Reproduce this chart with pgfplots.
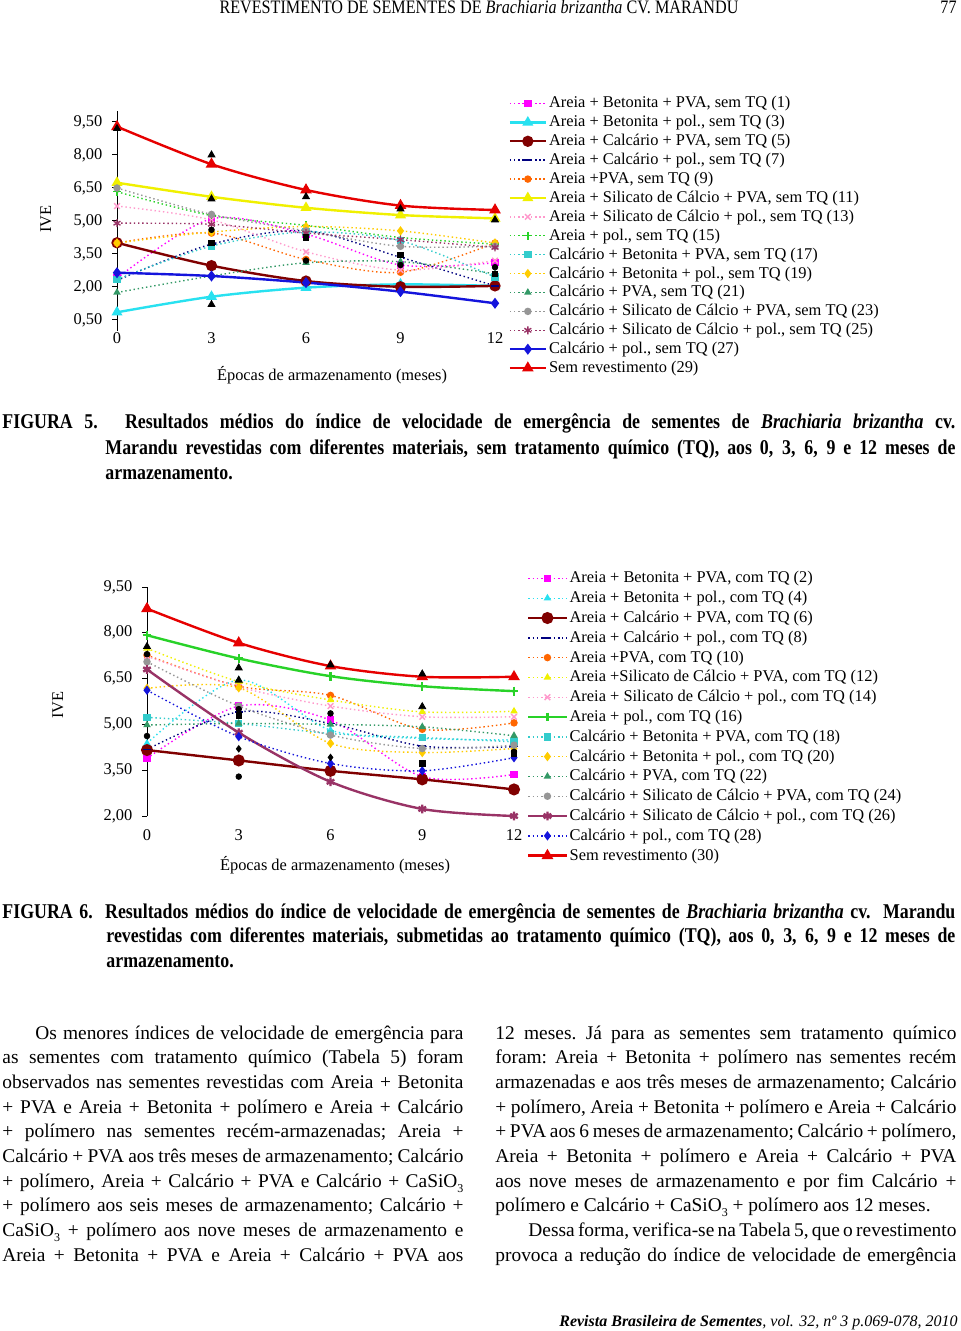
\documentclass[border=0pt]{standalone}
\usepackage{pgfplots}
\pgfplotsset{compat=1.18}
\usepackage{fontspec}
\setmainfont{Liberation Serif}
\newfontfamily\capf[FakeStretch=0.85]{Liberation Serif}
\newfontfamily\headf[FakeStretch=0.85]{Liberation Serif}
\newcommand\chartfont{\fontsize{8.2}{9.5}\selectfont}
\newcommand\bodyfont{\fontsize{9.7}{12}\selectfont\frenchspacing}
\newcommand\capfont{\capf\bfseries\fontsize{10.5}{12}\selectfont}
\newcommand\sub[1]{\raisebox{-0.55ex}{\fontsize{6}{6}\selectfont #1}}
\newcommand\bl[4]{\node[anchor=base west,inner sep=0] at (#1,#2) {\bodyfont\hbox to #3{#4}};}
\newcommand\cl[4]{\node[anchor=base west,inner sep=0] at (#1,#2) {\capfont\hbox to #3{#4}};}

\definecolor{cMag}{RGB}{255,0,255}
\definecolor{cCyan}{RGB}{40,225,240}
\definecolor{cDkRed}{RGB}{128,0,0}
\definecolor{cNavy}{RGB}{0,0,128}
\definecolor{cOrange}{RGB}{255,102,0}
\definecolor{cYellow}{RGB}{240,240,0}
\definecolor{cPink}{RGB}{255,153,204}
\definecolor{cGreen}{RGB}{40,210,40}
\definecolor{cTeal}{RGB}{51,204,204}
\definecolor{cGold}{RGB}{255,204,0}
\definecolor{cDkGreen}{RGB}{51,153,102}
\definecolor{cGray}{RGB}{150,150,150}
\definecolor{cPurple}{RGB}{153,51,102}
\definecolor{cBlue}{RGB}{20,20,220}
\definecolor{cRed}{RGB}{230,0,0}

\pgfplotsset{
  dotl/.style={line width=0.7pt, dash pattern=on 0.7pt off 1.4pt, smooth, mark size=1.5pt, mark options={solid}},
  soll/.style={line width=1.2pt, smooth, mark size=2pt, mark options={solid}},
  pagechart/.style={
    scale only axis, clip=false, enlargelimits=false,
    axis lines=left, axis line style={-, black, line width=0.5pt},
    x axis line style={draw=none},
    xtick={0,3,6,9,12}, xmin=0, xmax=12,
    x tick style={draw=none},
    y tick style={black, line width=0.5pt},
    tick align=outside, major tick length=2.5pt,
    tick label style={font=\chartfont},
    yticklabel={\pgfmathprintnumber[fixed,fixed zerofill,precision=2,use comma,assume math mode=true]{\tick}},
    xticklabel={\pgfmathprintnumber[fixed,precision=0,assume math mode=true]{\tick}},
    yticklabel style={xshift=-1.3pt},
    legend cell align=left,
    legend image code/.code={\draw[mark repeat=2,mark phase=2,#1] plot coordinates {(0pt,0pt) (9pt,0pt) (18pt,0pt)};},
  },
}

\begin{document}
\begin{tikzpicture}
\begin{scope}[x=0.5pt,y=-0.5pt]
\fill[white] (0,0) rectangle (960,1331);
% header
\node[anchor=base, inner sep=0] at (479,14) {\headf\fontsize{9.5}{11}\selectfont REVESTIMENTO DE SEMENTES DE \textit{Brachiaria brizantha} CV. MARANDU};
\node[anchor=base east, inner sep=0] at (957,14) {\headf\fontsize{9.5}{11}\selectfont 77};
% axis texts chart 1
\node[rotate=90, font=\chartfont] at (46,219) {IVE};
\node[font=\chartfont] at (332,375) {Épocas de armazenamento (meses)};
% caption 5
\cl{2}{429}{476.5pt}{FIGURA 5. Resultados médios do índice de velocidade de emergência de sementes de \textit{Brachiaria brizantha} cv.}
\cl{105}{454}{425pt}{Marandu revestidas com diferentes materiais, sem tratamento químico (TQ), aos 0, 3, 6, 9 e 12 meses de}
\node[anchor=base west,inner sep=0] at (105,479) {\capfont armazenamento.};
% axis texts chart 2
\node[rotate=90, font=\chartfont] at (58,705) {IVE};
\node[font=\chartfont] at (335,865) {Épocas de armazenamento (meses)};
% caption 6
\cl{2}{918}{476.5pt}{FIGURA 6. Resultados médios do índice de velocidade de emergência de sementes de \textit{Brachiaria brizantha} cv. Marandu}
\cl{106}{942}{424.5pt}{revestidas com diferentes materiais, submetidas ao tratamento químico (TQ), aos 0, 3, 6, 9 e 12 meses de}
\node[anchor=base west,inner sep=0] at (106,967) {\capfont armazenamento.};
% body left
\bl{35}{1039}{214pt}{Os menores índices de velocidade de emergência para}
\bl{2}{1063.7}{230.5pt}{as sementes com tratamento químico (Tabela 5) foram}
\bl{2}{1088.4}{230.5pt}{observados nas sementes revestidas com Areia + Betonita}
\bl{2}{1113.1}{230.5pt}{+ PVA e Areia + Betonita + polímero e Areia + Calcário}
\bl{2}{1137.8}{230.5pt}{+ polímero nas sementes recém-armazenadas; Areia +}
\bl{2}{1162.5}{230.5pt}{Calcário + PVA aos três meses de armazenamento; Calcário}
\bl{2}{1187.2}{230.5pt}{+ polímero, Areia + Calcário + PVA e Calcário + CaSiO\sub{3}}
\bl{2}{1211.9}{230.5pt}{+ polímero aos seis meses de armazenamento; Calcário +}
\bl{2}{1236.6}{230.5pt}{CaSiO\sub{3} + polímero aos nove meses de armazenamento e}
\bl{2}{1261.3}{230.5pt}{Areia + Betonita + PVA e Areia + Calcário + PVA aos}
% body right
\bl{495}{1039}{230.5pt}{12 meses. Já para as sementes sem tratamento químico}
\bl{495}{1063.7}{230.5pt}{foram: Areia + Betonita + polímero nas sementes recém}
\bl{495}{1088.4}{230.5pt}{armazenadas e aos três meses de armazenamento; Calcário}
\bl{495}{1113.1}{230.5pt}{+ polímero, Areia + Betonita + polímero e Areia + Calcário}
\bl{495}{1137.8}{230.5pt}{+ PVA aos 6 meses de armazenamento; Calcário + polímero,}
\bl{495}{1162.5}{230.5pt}{Areia + Betonita + polímero e Areia + Calcário + PVA}
\bl{495}{1187.2}{230.5pt}{aos nove meses de armazenamento e por fim Calcário +}
\bl{495}{1211.9}{230.5pt}{polímero e Calcário + CaSiO\sub{3} + polímero aos 12 meses.\hfil}
\bl{528}{1236.6}{214pt}{Dessa forma, verifica-se na Tabela 5, que o revestimento}
\bl{495}{1261.3}{230.5pt}{provoca a redução do índice de velocidade de emergência}
% footer
\node[anchor=base east, inner sep=0] at (958,1326) {\fontsize{8}{10}\selectfont\textbf{\textit{Revista Brasileira de Sementes}}\textit{, vol. 32, nº 3 p.069-078, 2010}};
\end{scope}

% ================= CHART 1 =================
\begin{axis}[pagechart,
  at={(58.5pt,-165.5pt)}, anchor=south west,
  width=189pt, height=110pt,
  ymin=0, ymax=10, ytick={0.5,2,3.5,5,6.5,8,9.5},
  xticklabel style={yshift=5.4pt},
  legend style={at={(axis description cs:1.035,1.07)}, anchor=north west, draw=none, fill=none,
    inner sep=0pt, row sep=1.95pt, column sep=1pt, font=\chartfont,
    nodes={inner sep=0pt, text height=6pt, text depth=1.5pt}},
]
\addplot[cMag, dotl, mark=square*] coordinates {(0,2.4)(3,5.1)(6,4.4)(9,3.0)(12,3.1)};
\addlegendentry{Areia + Betonita + PVA, sem TQ (1)}
\addplot[cCyan, soll, mark=triangle*] coordinates {(0,0.85)(3,1.56)(6,1.97)(9,2.12)(12,2.05)};
\addlegendentry{Areia + Betonita + pol., sem TQ (3)}
\addplot[cDkRed, soll, mark=*, mark size=2.2pt] coordinates {(0,4.01)(3,2.97)(6,2.27)(9,2.01)(12,2.05)};
\addlegendentry{Areia + Calcário + PVA, sem TQ (5)}
\addplot[cNavy, dotl, mark=-, mark size=2pt] coordinates {(0,2.3)(3,3.95)(6,4.55)(9,3.35)(12,2.05)};
\addlegendentry{Areia + Calcário + pol., sem TQ (7)}
\addplot[cOrange, dotl, mark=*] coordinates {(0,4.0)(3,4.45)(6,3.25)(9,2.67)(12,4.0)};
\addlegendentry{Areia +PVA, sem TQ (9)}
\addplot[cYellow, soll, mark=triangle*] coordinates {(0,6.74)(3,6.10)(6,5.60)(9,5.27)(12,5.12)};
\addlegendentry{Areia + Silicato de Cálcio + PVA, sem TQ (11)}
\addplot[cPink, dotl, mark=x, mark size=2pt] coordinates {(0,5.68)(3,5.05)(6,3.6)(9,2.77)(12,3.2)};
\addlegendentry{Areia + Silicato de Cálcio + pol., sem TQ (13)}
\addplot[cGreen, dotl, mark=+, mark size=2pt] coordinates {(0,6.33)(3,5.25)(6,4.8)(9,4.25)(12,3.95)};
\addlegendentry{Areia + pol., sem TQ (15)}
\addplot[cTeal, dotl, mark=square*] coordinates {(0,2.35)(3,3.86)(6,4.5)(9,4.1)(12,2.45)};
\addlegendentry{Calcário + Betonita + PVA, sem TQ (17)}
\addplot[cGold, dotl, mark=diamond*, mark size=1.8pt] coordinates {(0,4.0)(3,4.5)(6,4.75)(9,4.55)(12,4.0)};
\addlegendentry{Calcário + Betonita + pol., sem TQ (19)}
\addplot[cDkGreen, dotl, mark=triangle*] coordinates {(0,1.75)(3,2.5)(6,3.1)(9,3.15)(12,2.6)};
\addlegendentry{Calcário + PVA, sem TQ (21)}
\addplot[cGray, dotl, mark=*] coordinates {(0,6.5)(3,5.3)(6,4.55)(9,3.85)(12,3.85)};
\addlegendentry{Calcário + Silicato de Cálcio + PVA, sem TQ (23)}
\addplot[cPurple, dotl, mark=asterisk, mark size=2pt] coordinates {(0,4.9)(3,4.85)(6,4.45)(9,4.15)(12,3.8)};
\addlegendentry{Calcário + Silicato de Cálcio + pol., sem TQ (25)}
\addplot[cBlue, soll, mark=diamond*, mark size=1.8pt] coordinates {(0,2.65)(3,2.5)(6,2.2)(9,1.79)(12,1.26)};
\addlegendentry{Calcário + pol., sem TQ (27)}
\addplot[cRed, soll, mark=triangle*, mark size=2.2pt] coordinates {(0,9.29)(3,7.58)(6,6.41)(9,5.70)(12,5.5)};
\addlegendentry{Sem revestimento (29)}
\addplot[forget plot, only marks, black, mark=triangle*, mark size=2pt] coordinates {(0,9.2)(3,8.0)(3,1.2)(6,6.1)(9,5.55)(12,5.05)(3,6.0)};
\addplot[forget plot, only marks, black, mark=square*, mark size=1.4pt] coordinates {(3,4.0)(6,4.25)(9,3.45)(12,2.6)};
\addplot[forget plot, only marks, black, mark=*, mark size=1.4pt] coordinates {(6,3.2)(9,3.0)(12,2.9)(3,4.6)};
\end{axis}

% ================= CHART 2 =================
\begin{axis}[pagechart,
  at={(73.5pt,-408pt)}, anchor=south west,
  width=183.5pt, height=114.5pt,
  ymin=2, ymax=9.5, ytick={2,3.5,5,6.5,8,9.5},
  xticklabel style={yshift=-0.6pt},
  legend image code/.code={\draw[mark repeat=2,mark phase=2,#1] plot coordinates {(0pt,0pt) (9.5pt,0pt) (19pt,0pt)};},
  legend style={at={(axis description cs:1.035,1.072)}, anchor=north west, draw=none, fill=none,
    inner sep=0pt, row sep=2.4pt, column sep=1pt, font=\chartfont,
    nodes={inner sep=0pt, text height=6pt, text depth=1.5pt}},
]
\addplot[cMag, dotl, mark=square*] coordinates {(0,3.89)(3,5.6)(6,5.14)(9,3.29)(12,3.36)};
\addlegendentry{Areia + Betonita + PVA, com TQ (2)}
\addplot[cCyan, dotl, mark=triangle*] coordinates {(0,4.38)(3,6.45)(6,4.81)(9,4.54)(12,4.49)};
\addlegendentry{Areia + Betonita + pol., com TQ (4)}
\addplot[cDkRed, soll, mark=*, mark size=2.4pt] coordinates {(0,4.16)(3,3.82)(6,3.48)(9,3.20)(12,2.87)};
\addlegendentry{Areia + Calcário + PVA, com TQ (6)}
\addplot[cNavy, dotl, mark=-, mark size=2pt] coordinates {(0,4.18)(3,5.41)(6,5.03)(9,4.29)(12,4.27)};
\addlegendentry{Areia + Calcário + pol., com TQ (8)}
\addplot[cOrange, dotl, mark=*] coordinates {(0,7.27)(3,6.25)(6,5.95)(9,4.84)(12,5.05)};
\addlegendentry{Areia +PVA, com TQ (10)}
\addplot[cYellow, dotl, mark=triangle*] coordinates {(0,7.49)(3,6.4)(6,5.8)(9,5.41)(12,5.43)};
\addlegendentry{Areia +Silicato de Cálcio + PVA, com TQ (12)}
\addplot[cPink, dotl, mark=x, mark size=2pt] coordinates {(0,7.23)(3,6.23)(6,5.6)(9,5.25)(12,5.25)};
\addlegendentry{Areia + Silicato de Cálcio + pol., com TQ (14)}
\addplot[cGreen, soll, mark=+, mark size=2.2pt] coordinates {(0,7.92)(3,7.16)(6,6.58)(9,6.25)(12,6.09)};
\addlegendentry{Areia + pol., com TQ (16)}
\addplot[cTeal, dotl, mark=square*] coordinates {(0,5.23)(3,5.03)(6,4.70)(9,4.57)(12,4.43)};
\addlegendentry{Calcário + Betonita + PVA, com TQ (18)}
\addplot[cGold, dotl, mark=diamond*, mark size=1.8pt] coordinates {(0,6.18)(3,6.2)(6,4.38)(9,4.08)(12,4.21)};
\addlegendentry{Calcário + Betonita + pol., com TQ (20)}
\addplot[cDkGreen, dotl, mark=triangle*] coordinates {(0,4.98)(3,5.03)(6,5.0)(9,4.92)(12,4.63)};
\addlegendentry{Calcário + PVA, com TQ (22)}
\addplot[cGray, dotl, mark=*] coordinates {(0,7.05)(3,5.6)(6,4.65)(9,4.21)(12,4.32)};
\addlegendentry{Calcário + Silicato de Cálcio + PVA, com TQ (24)}
\addplot[cPurple, soll, mark=asterisk, mark size=2.2pt] coordinates {(0,6.80)(3,4.73)(6,3.12)(9,2.23)(12,2.0)};
\addlegendentry{Calcário + Silicato de Cálcio + pol., com TQ (26)}
\addplot[cBlue, dotl, mark=diamond*, mark size=1.8pt] coordinates {(0,6.12)(3,4.6)(6,3.72)(9,3.48)(12,3.91)};
\addlegendentry{Calcário + pol., com TQ (28)}
\addplot[cRed, soll, mark=triangle*, mark size=2.2pt] coordinates {(0,8.79)(3,7.67)(6,6.91)(9,6.56)(12,6.56)};
\addlegendentry{Sem revestimento (30)}
\addplot[forget plot, only marks, black, mark=triangle*, mark size=2pt] coordinates {(0,7.55)(3,6.85)(6,6.95)(9,6.65)(9,5.58)(3,6.45)};
\addplot[forget plot, only marks, black, mark=*, mark size=1.4pt] coordinates {(0,4.62)(0,7.3)(3,3.29)(3,5.5)(6,5.36)(12,4.1)};
\addplot[forget plot, only marks, black, mark=diamond*, mark size=1.6pt] coordinates {(6,3.92)(3,4.2)};
\addplot[forget plot, only marks, black, mark=square*, mark size=1.4pt] coordinates {(9,3.72)(12,4.05)(3,5.3)};
\end{axis}
\end{tikzpicture}
\end{document}
